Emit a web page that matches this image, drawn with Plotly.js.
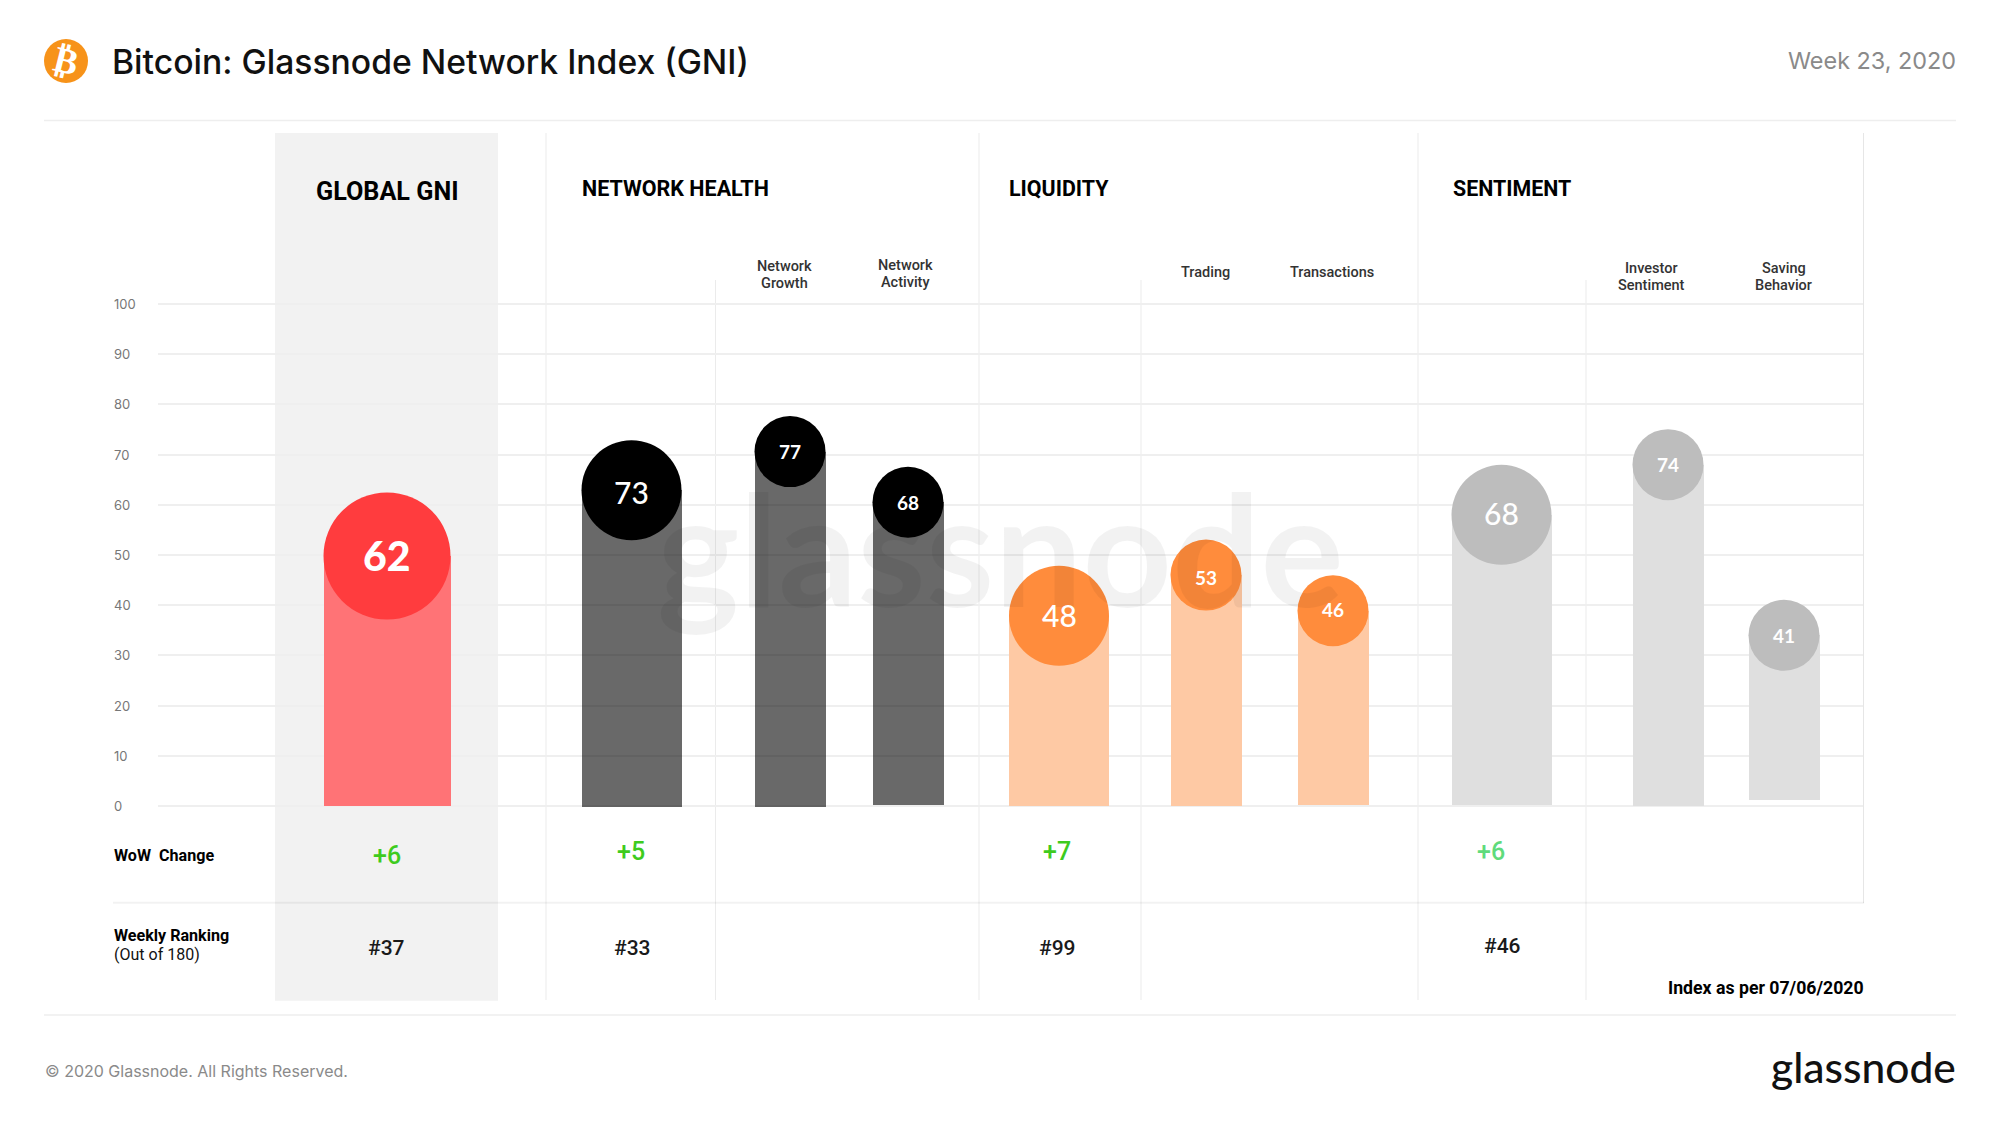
<!DOCTYPE html>
<html><head><meta charset="utf-8">
<script src="https://cdn.plot.ly/plotly-3.0.1.min.js"></script>
<style>html,body{margin:0;padding:0;background:#fff}#c{width:2000px;height:1125px}</style>
</head><body><div id="c"></div>
<script>
// ---- data ----
const indexNames   = ["Global GNI","Network Health","Network Growth","Network Activity","Liquidity","Trading","Transactions","Sentiment","Investor Sentiment","Saving Behavior"];
const printedScore = [62,73,77,68,48,53,46,68,74,41];
const plottedTop   = [49.8,62.9,70.6,60.5,37.9,46,38.9,58.0,68,34];
const plottedBase  = [0,-0.1,-0.1,0.2,0,0,0.2,0.2,0,1.2];
const wowLabels    = ["+6","+5","+7","+6"];
const rankLabels   = ["#37","#33","#99","#46"];
const yTicks       = [0,10,20,30,40,50,60,70,80,90,100];
const yTickLabels  = ["0","10","20","30","40","50","60","70","80","90","100"];

// ---- layout constants (pixels of the 2000x1125 page) ----
const W=2000,H=1125,Y0=806,PX_PER_UNIT=5.02;
const slotX  =[387,631.5,790,908,1059,1206,1333,1501.5,1668,1784];
const slotW  =[127,100,71,71,100,71,71,100,71,71];
const markerColor=["#FF3C3E","#000000","#000000","#000000","#FF8C3C","#FF8C3C","#FF8C3C","#BDBDBD","#BDBDBD","#BDBDBD"];
const barColor   =["#FF7376","rgba(0,0,0,0.59)","rgba(0,0,0,0.59)","rgba(0,0,0,0.59)","#FEC9A4","#FEC9A4","#FEC9A4","#DFDFDF","#DFDFDF","#DFDFDF"];
const labelSize  =[41,30,19,19,30,19,19,30,19,19];
const labelWeight=[900,500,700,700,500,700,700,500,700,700];
const labelShift =[1,-2,0,0,1,-2.5,1,2,0,0];

const px=x=>x/W, py=y=>1-y/H;
const BODY='Inter, sans-serif', HEAD='Roboto, sans-serif', GEO='Lato, sans-serif';
function txt(text,x,y,size,color,opt){opt=opt||{};
  return Object.assign({text:text,xref:'paper',yref:'paper',x:px(x),y:py(y),showarrow:false,
    xanchor:opt.a||'center',yanchor:'middle',align:opt.a||'center',
    font:{family:opt.f||HEAD,size:size,color:color,weight:opt.w||400}},opt.extra||{});
}
function rule(x0,y0,x1,y1,color,w,layer){
  return {type:'line',xref:'paper',yref:'paper',x0:px(x0),x1:px(x1),y0:py(y0),y1:py(y1),
    layer:layer||'below',line:{color:color,width:w}};
}
const annotations=[
  txt('Bitcoin: Glassnode Network Index (GNI)',110,61.5,33.7,'#111',{a:'left',f:BODY,w:500}),
  txt('Week 23, 2020',1957.5,61,23.4,'#8a8a8a',{a:'right',f:BODY}),
  txt('₿',66,61,36,'#fff',{f:'DejaVu Sans',w:700,extra:{textangle:14}}),
  txt('GLOBAL GNI',387,191,25.2,'#000',{w:700}),
  txt('NETWORK HEALTH',579.5,188,21.5,'#000',{a:'left',w:700}),
  txt('LIQUIDITY',1006.5,188,21.4,'#000',{a:'left',w:700}),
  txt('SENTIMENT',1450.5,188,21.4,'#000',{a:'left',w:700}),
  txt('Network',784.5,266.5,14.5,'#333',{w:500}),txt('Growth',784.5,283,14.5,'#333',{w:500}),
  txt('Network',905.5,265.5,14.5,'#333',{w:500}),txt('Activity',905.5,282.5,14.5,'#333',{w:500}),
  txt('Trading',1205,272,14.5,'#333',{w:500}),
  txt('Transactions',1331.5,272,14.5,'#333',{w:500}),
  txt('Investor',1651.5,268,14.5,'#333',{w:500}),txt('Sentiment',1651.5,285,14.5,'#333',{w:500}),
  txt('Saving',1783.5,268,14.5,'#333',{w:500}),txt('Behavior',1783.5,285,14.5,'#333',{w:500}),
  txt('WoW  Change',111.5,856,16.1,'#000',{a:'left',w:700}),
  txt('Weekly Ranking',111.5,935,16.1,'#000',{a:'left',w:700}),
  txt('(Out of 180)',111.5,954,16,'#111',{a:'left'}),
  txt(wowLabels[0],386.5,855,25,'#3ECB1E',{w:500}),
  txt(wowLabels[1],631,851,25,'#3ECB1E',{w:500}),
  txt(wowLabels[2],1057,851,25,'#3ECB1E',{w:500}),
  txt(wowLabels[3],1491,851,25,'#5FDB7C',{w:500}),
  txt(rankLabels[0],386.5,948,21,'#1a1a1a',{w:500}),
  txt(rankLabels[1],632,947.5,21,'#1a1a1a',{w:500}),
  txt(rankLabels[2],1057,947.5,21,'#1a1a1a',{w:500}),
  txt(rankLabels[3],1502,946,21,'#1a1a1a',{w:500}),
  txt('Index as per 07/06/2020',1865.5,988,17.7,'#000',{a:'right',w:700}),
  txt('© 2020 Glassnode. All Rights Reserved.',43,1071,16,'#8a8a8a',{a:'left',f:BODY}),
  txt('glassnode',1958,1066,42.5,'#111',{a:'right',f:GEO,w:500}),
  txt('glassnode',1000,546,156,'rgba(0,0,0,0.05)',{f:GEO,w:700})
];
yTicks.forEach((t,i)=>annotations.push({text:yTickLabels[i],xref:'paper',yref:'y',x:px(111.5),y:t,showarrow:false,
  xanchor:'left',yanchor:'middle',font:{family:BODY,size:13,color:'#777'}}));
printedScore.forEach((v,i)=>annotations.push({text:String(v),xref:'x',yref:'y',x:slotX[i],y:plottedTop[i],
  showarrow:false,xanchor:'center',yanchor:'middle',yshift:labelShift[i],
  font:{family:GEO,size:labelSize[i],color:'#fff',weight:labelWeight[i]}}));

const shapes=[
  rule(44,120.5,1956,120.5,'#EEEEEE',1.5),
  rule(44,1015,1956,1015,'#EEEEEE',1.5),
  rule(546,133,546,1000,'#EBEBEB',1),
  rule(715.5,280,715.5,1000,'#EBEBEB',1),
  rule(979,133,979,1000,'#EBEBEB',1),
  rule(1141,280,1141,1000,'#EBEBEB',1),
  rule(1418,133,1418,1000,'#EBEBEB',1),
  rule(1586,280,1586,1000,'#EBEBEB',1),
  rule(1863.5,133,1863.5,903,'#E6E6E6',1),
  rule(113,902.7,1864,902.7,'rgba(0,0,0,0.05)',2,'above'),
  {type:'rect',xref:'x',yref:'y',layer:'below',x0:275,x1:498,
   y0:(Y0-1000.7)/PX_PER_UNIT,y1:(Y0-133)/PX_PER_UNIT,fillcolor:'#F2F2F2',line:{width:0}},
  {type:'circle',xref:'paper',yref:'paper',layer:'below',
   x0:px(44),x1:px(88),y0:py(83),y1:py(39),fillcolor:'#F7931A',line:{width:0}}
];

const data=[
  {type:'bar',x:slotX,y:plottedTop.map((t,i)=>t-plottedBase[i]),base:plottedBase,width:slotW,
   name:'Bars',text:indexNames,textposition:'none',marker:{color:barColor,line:{width:0}},hoverinfo:'text'},
  {type:'scatter',mode:'markers',x:slotX,y:plottedTop,cliponaxis:false,
   marker:{size:slotW,color:markerColor,opacity:1,line:{width:0}},
   text:indexNames,customdata:printedScore,hovertemplate:'%{text}: %{customdata}<extra></extra>'}
];

const layout={
  width:W,height:H,showlegend:false,paper_bgcolor:'#fff',plot_bgcolor:'rgba(0,0,0,0)',
  margin:{l:0,r:0,t:0,b:0,pad:0},hovermode:'closest',bargap:0,
  font:{family:BODY},
  xaxis:{domain:[158/W,1863/W],range:[158,1863],visible:false,fixedrange:true},
  yaxis:{domain:[0,1],range:[(Y0-H)/PX_PER_UNIT,Y0/PX_PER_UNIT],tickmode:'array',tickvals:yTicks,
    showticklabels:false,ticks:'',showline:false,zeroline:false,showgrid:true,
    gridcolor:'#EFEFEF',gridwidth:2,fixedrange:true},
  shapes:shapes,annotations:annotations
};
Plotly.newPlot('c',data,layout,{displayModeBar:false,staticPlot:true});
</script></body></html>
